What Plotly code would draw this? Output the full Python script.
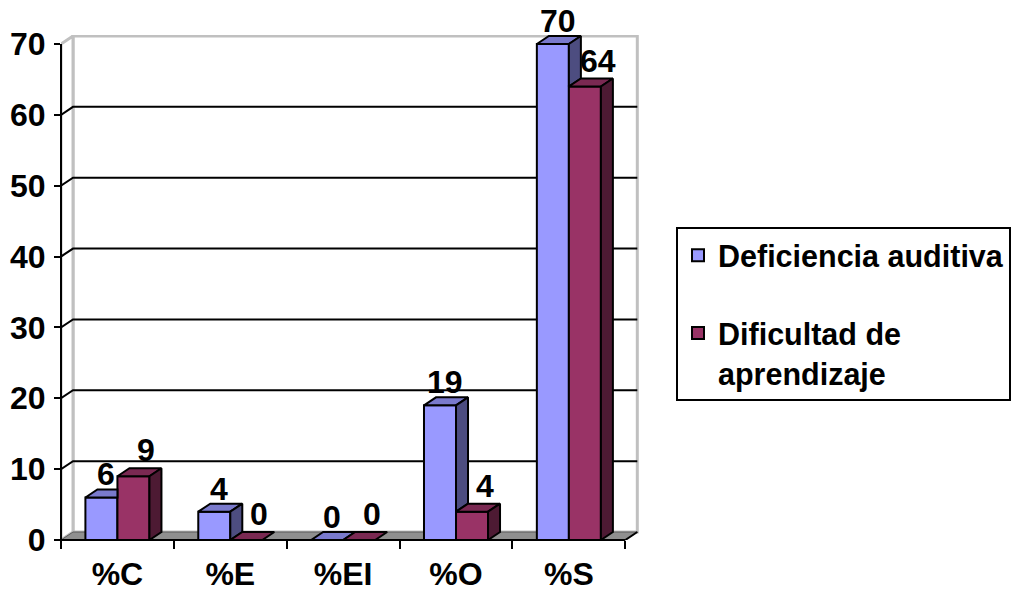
import plotly.graph_objects as go

# Categories and values for the two groups
categories = ["%C", "%E", "%EI", "%O", "%S"]
deficiencia_auditiva = [6, 4, 0, 19, 70]
dificultad_aprendizaje = [9, 0, 0, 4, 64]
y_ticks = [0, 10, 20, 30, 40, 50, 60, 70]

FONT = "Liberation Sans, Arial, sans-serif"
FS = 32          # axis and value labels
FS_LEG = 30.5    # legend

# pixel geometry of the plot area
W, H = 1016, 592
M_L, M_B, M_T = 61, 52, 35
PX_PER_CAT = 112.8
PX_PER_UNIT = 496 / 70.0

# depth offset of the pseudo-3D look (in axis units)
DX = 12 / PX_PER_CAT
DY = 8 / PX_PER_UNIT
BW = 32 / PX_PER_CAT  # width of one bar

n = len(categories)
x_lo, x_hi = -0.5, n - 0.5
y_top = max(y_ticks)
y_range = [0, (H - M_T - M_B) / PX_PER_UNIT]
x_range = [x_lo, x_hi + DX + 0.015]
M_R = W - M_L - (x_range[1] - x_range[0]) * PX_PER_CAT

BLUE = dict(front="#9999FF", top="#7A7ACC", side="#4D4D80")
RED = dict(front="#993366", top="#7A2952", side="#4D1A33")


def poly_trace(polys, color):
    xs, ys = [], []
    for p in polys:
        for (px, py) in p + [p[0]]:
            xs.append(px)
            ys.append(py)
        xs.append(None)
        ys.append(None)
    return go.Scatter(x=xs, y=ys, mode="lines", fill="toself", fillcolor=color,
                      line=dict(color="black", width=2), hoverinfo="skip",
                      showlegend=False, cliponaxis=False)


fig = go.Figure()

# front faces
fig.add_trace(go.Bar(x=list(range(n)), y=deficiencia_auditiva, width=BW, offset=-BW,
                     name="Deficiencia auditiva", legendgroup="a",
                     marker=dict(color=BLUE["front"], line=dict(color="black", width=2))))
fig.add_trace(go.Bar(x=list(range(n)), y=dificultad_aprendizaje, width=BW, offset=0,
                     name="Dificultad de<br>aprendizaje", legendgroup="b",
                     marker=dict(color=RED["front"], line=dict(color="black", width=2))))

# top and side faces
b_tops, b_sides, r_tops, r_sides = [], [], [], []
for i, (vb, vr) in enumerate(zip(deficiencia_auditiva, dificultad_aprendizaje)):
    xl, xm, xr = i - BW, i, i + BW
    if vr > vb:
        b_tops.append([(xl, vb), (xl + DX, vb + DY), (xm, vb + DY), (xm, vb)])
    else:
        b_tops.append([(xl, vb), (xl + DX, vb + DY), (xm + DX, vb + DY), (xm, vb)])
    if vb > vr:
        b_sides.append([(xm, vr), (xm + DX, vr + DY), (xm + DX, vb + DY), (xm, vb)])
    r_tops.append([(xm, vr), (xm + DX, vr + DY), (xr + DX, vr + DY), (xr, vr)])
    if vr > 0:
        r_sides.append([(xr, 0), (xr + DX, DY), (xr + DX, vr + DY), (xr, vr)])

fig.add_trace(poly_trace(b_tops, BLUE["top"]))
fig.add_trace(poly_trace(b_sides, BLUE["side"]))
fig.add_trace(poly_trace(r_tops, RED["top"]))
fig.add_trace(poly_trace(r_sides, RED["side"]))

# value labels above each bar
annotations = []
for i, v in enumerate(deficiencia_auditiva):
    annotations.append(dict(x=i - BW / 2, y=v, xref="x", yref="y", text=str(v),
                            showarrow=False, xanchor="center", yanchor="middle",
                            xshift=5, yshift=23,
                            font=dict(family=FONT, size=FS, color="black", weight="bold")))
for i, v in enumerate(dificultad_aprendizaje):
    annotations.append(dict(x=i + BW / 2, y=v, xref="x", yref="y", text=str(v),
                            showarrow=False, xanchor="center", yanchor="middle",
                            xshift=13, yshift=26,
                            font=dict(family=FONT, size=FS, color="black", weight="bold")))

# walls, floor and gridlines
shapes = []
wall_grey = "#C0C0C0"
shapes.append(dict(type="path", layer="below", xref="x", yref="y",
                   path=f"M{x_lo + DX},{DY} L{x_hi + DX},{DY} L{x_hi + DX},{y_top + DY} "
                        f"L{x_lo + DX},{y_top + DY} Z",
                   fillcolor="white", line=dict(color=wall_grey, width=3)))
shapes.append(dict(type="path", layer="below", xref="x", yref="y",
                   path=f"M{x_lo},0 L{x_lo + DX},{DY} L{x_lo + DX},{y_top + DY} L{x_lo},{y_top} Z",
                   fillcolor="white", line=dict(color=wall_grey, width=3)))
for v in y_ticks[1:-1]:
    shapes.append(dict(type="path", layer="below", xref="x", yref="y",
                       path=f"M{x_lo},{v} L{x_lo + DX},{v + DY} L{x_hi + DX},{v + DY}",
                       line=dict(color="black", width=2)))
shapes.append(dict(type="path", layer="below", xref="x", yref="y",
                   path=f"M{x_lo},0 L{x_hi},0 L{x_hi + DX},{DY} L{x_lo + DX},{DY} Z",
                   fillcolor="#8F8F8F", line=dict(color="#5A5A5A", width=1)))
# front axis lines
shapes.append(dict(type="line", layer="above", xref="paper", yref="paper",
                   x0=0, x1=0, y0=-8 / (H - M_T - M_B), y1=y_top / y_range[1],
                   line=dict(color="black", width=2)))
shapes.append(dict(type="line", layer="above", xref="x", yref="paper",
                   x0=x_lo - 0.05, x1=x_hi, y0=0, y1=0,
                   line=dict(color="black", width=2)))
shapes.append(dict(type="line", layer="above", xref="x", yref="y",
                   x0=x_hi, x1=x_hi + DX, y0=0, y1=DY,
                   line=dict(color="black", width=2)))

fig.update_layout(
    width=W, height=H,
    margin=dict(l=M_L, r=M_R, t=M_T, b=M_B, pad=0, autoexpand=False),
    paper_bgcolor="white", plot_bgcolor="white",
    barmode="overlay",
    shapes=shapes,
    annotations=annotations,
    font=dict(family=FONT, size=FS, color="black"),
    xaxis=dict(range=x_range, tickmode="array", tickvals=list(range(n)), ticktext=categories,
               ticks="", showgrid=False, zeroline=False, showline=False, automargin=False,
               tickfont=dict(family=FONT, size=FS, color="black", weight="bold"),
               ticklabelstandoff=12,
               minor=dict(tickmode="array", tickvals=[x_lo + k for k in range(n + 1)],
                          ticks="outside", ticklen=8, tickwidth=2, tickcolor="black",
                          showgrid=False)),
    yaxis=dict(range=y_range, tickmode="array", tickvals=y_ticks,
               ticks="outside", ticklen=6, tickwidth=2, tickcolor="black",
               showgrid=False, zeroline=False, showline=False, automargin=False,
               tickfont=dict(family=FONT, size=FS, color="black", weight="bold"),
               ticklabelstandoff=2),
    legend=dict(xref="container", yref="container", x=676 / W, y=1 - 227 / H,
                xanchor="left", yanchor="top", valign="top",
                bordercolor="black", borderwidth=2, bgcolor="white",
                font=dict(family=FONT, size=FS_LEG, color="black", weight="bold"),
                traceorder="grouped", tracegroupgap=35,
                itemsizing="constant"),
    showlegend=True,
)

fig.write_html("out.html")
